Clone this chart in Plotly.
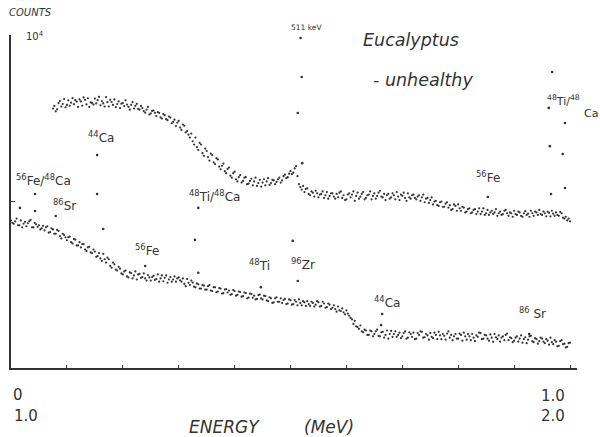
import numpy as np
import plotly.graph_objects as go

# ---------------- data ----------------
# Upper spectrum (0 - 1 MeV): counts per 2.5 keV channel, starting at 0.075 MeV
upper_start = 0.075
upper_step = 0.0025
upper_counts = [
    3620, 3750, 3480, 3580, 3900, 4010, 3720, 3850, 4120, 3680, 3800, 4050, 3760, 3920, 4180, 3840, 4060, 3980, 3700, 4100,
    3990, 3760, 4220, 4080, 3830, 4170, 3700, 3940, 3910, 3820, 4150, 3880, 4060, 4250, 3780, 4000, 3880, 3720, 4240, 3950,
    3720, 4080, 3960, 3800, 4100, 3690, 3850, 3990, 3640, 3870, 3900, 3740, 4050, 3820, 3700, 3560, 3810, 3950, 3620, 3750,
    3860, 3600, 3560, 3750, 3640, 3490, 3420, 3560, 3700, 3330, 3380, 3500, 3520, 3410, 3260, 3440, 3410, 3200, 3150, 3350,
    3300, 3120, 3080, 3240, 3190, 2950, 3010, 3100, 2840, 2980, 3050, 2780, 2690, 2900, 2850, 2600, 2650, 2520, 2420, 2560,
    2300, 2200, 2420, 2120, 2040, 2250, 2200, 1950, 1880, 2080, 2010, 1850, 1760, 1940, 1900, 1720, 1680, 1820, 1790, 1620,
    1560, 1640, 1690, 1520, 1480, 1570, 1600, 1430, 1390, 1480, 1510, 1360, 1320, 1400, 1440, 1300, 1330, 1390, 1400, 1270,
    1280, 1330, 1370, 1250, 1320, 1390, 1240, 1290, 1350, 1230, 1300, 1360, 1250, 1320, 1380, 1260, 1290, 1350, 1340, 1270,
    1310, 1360, 1390, 1300, 1340, 1420, 1450, 1380, 1400, 1470, 1520, 1460, 1490, 1580, 1630, 1420, 1270, 1220, 1180, 1240,
    1140, 1190, 1200, 1110, 1090, 1150, 1130, 1070, 1160, 1120, 1060, 1100, 1110, 1150, 1050, 1090, 1140, 1040, 1080, 1120,
    1120, 1070, 1040, 1110, 1060, 1130, 1150, 1050, 1090, 1020, 1030, 1100, 1120, 1060, 1100, 1150, 1010, 1080, 1130, 1040,
    1070, 1110, 1140, 1030, 1050, 1090, 1100, 1150, 1030, 1080, 1120, 1040, 1080, 1130, 1160, 1070, 1060, 1110, 1020, 1090,
    1110, 1040, 1060, 1120, 1090, 1030, 1140, 1070, 1020, 1100, 1080, 1130, 1050, 1010, 1120, 1060, 1040, 1090, 1100, 1050,
    1030, 1070, 1090, 1010, 1060, 1100, 990, 1040, 1050, 980, 1020, 1060, 960, 1000, 1010, 950, 940, 990, 1000, 930,
    930, 970, 990, 920, 950, 890, 900, 960, 940, 880, 960, 910, 880, 930, 920, 860, 870, 900, 910, 850,
    860, 890, 900, 840, 870, 910, 840, 870, 910, 830, 850, 890, 830, 860, 880, 840, 860, 900, 820, 850,
    870, 830, 840, 880, 890, 850, 820, 860, 850, 810, 880, 840, 830, 870, 860, 820, 810, 850, 875, 830,
    845, 810, 880, 850, 820, 870, 860, 830, 890, 840, 830, 870, 850, 815, 870, 855, 815, 880, 845, 820,
    860, 830, 820, 865, 850, 800, 790, 810, 770, 790, 760,
]

# Lower spectrum (1 - 2 MeV): counts per 2.5 keV channel, from 1.0 MeV (plotted 0..1)
lower_start = 0.0
lower_step = 0.0025
lower_counts = [
    770, 745, 735, 760, 790, 720, 720, 770, 700, 735, 755, 710, 740, 760, 775, 700, 700, 745, 730, 705,
    720, 680, 690, 715, 670, 700, 710, 650, 655, 690, 680, 640, 640, 675, 665, 620, 600, 640, 630, 610,
    585, 610, 615, 570, 560, 595, 590, 545, 545, 570, 530, 555, 555, 515, 505, 530, 535, 495, 490, 515,
    500, 465, 470, 490, 455, 440, 485, 450, 430, 460, 450, 410, 400, 430, 420, 390, 385, 405, 395, 370,
    365, 380, 385, 355, 350, 375, 372, 345, 360, 380, 340, 365, 368, 348, 352, 370, 345, 335, 362, 350,
    335, 352, 358, 338, 342, 365, 330, 345, 360, 332, 348, 360, 325, 340, 352, 330, 340, 355, 330, 345,
    350, 336, 330, 345, 320, 310, 342, 325, 315, 335, 326, 308, 305, 322, 318, 300, 300, 315, 312, 296,
    296, 310, 315, 292, 290, 306, 305, 285, 288, 302, 300, 280, 282, 296, 298, 284, 292, 275, 278, 294,
    290, 272, 275, 288, 286, 268, 270, 284, 282, 262, 265, 280, 278, 264, 272, 258, 260, 274, 276, 262,
    258, 272, 270, 255, 252, 266, 262, 246, 248, 262, 266, 250, 250, 262, 246, 256, 260, 242, 244, 258,
    255, 240, 242, 256, 250, 238, 258, 246, 238, 252, 248, 236, 252, 242, 236, 250, 246, 234, 240, 252,
    248, 234, 236, 250, 244, 230, 232, 244, 240, 226, 230, 238, 226, 218, 234, 222, 220, 228, 216, 210,
    222, 212, 206, 200, 196, 184, 192, 178, 176, 172, 180, 166, 164, 170, 168, 158, 158, 168, 166, 155,
    160, 166, 170, 156, 155, 164, 165, 152, 158, 168, 150, 160, 167, 154, 160, 166, 154, 158, 163, 151,
    155, 162, 166, 150, 152, 164, 160, 154, 163, 149, 150, 162, 158, 166, 165, 152, 153, 160, 157, 148,
    162, 154, 151, 163, 158, 149, 165, 157, 149, 160, 156, 148, 161, 166, 152, 158, 147, 155, 160, 150,
    150, 161, 158, 146, 163, 155, 148, 160, 155, 147, 160, 152, 145, 157, 154, 163, 162, 149, 150, 158,
    157, 150, 146, 159, 152, 144, 160, 153, 149, 157, 144, 152, 155, 147, 158, 161, 147, 153, 151, 143,
    146, 152, 155, 144, 150, 157, 142, 149, 153, 141, 148, 155, 156, 145, 143, 151, 149, 140, 145, 152,
    150, 144, 141, 149, 146, 138, 152, 143, 139, 147, 144, 135, 136, 145, 147, 139, 140, 133, 134, 141, 142,
]

# Isolated peak channels
upper_peak_energy = [0.513, 0.518, 0.520, 0.521, 0.853, 0.962, 0.964, 0.966,
                     0.968, 0.987, 0.991, 0.991]
upper_peak_counts = [3400, 9600, 5600, 1700, 1065, 3650, 2150, 1110,
                     6000, 1930, 2960, 1205]

lower_peak_energy = [0.016, 0.043, 0.043, 0.080, 0.154, 0.154, 0.165, 0.240,
                     0.329, 0.335, 0.335, 0.447, 0.504, 0.513, 0.662, 0.664, 0.927]
lower_peak_counts = [915, 877, 1110, 818, 1900, 1110, 684, 410,
                     588, 915, 373, 306, 580, 333, 181, 211, 160]

x_tick_values = [0.1, 0.2, 0.3, 0.4, 0.5, 0.6, 0.7, 0.8, 0.9, 1.0]
y_tick_values = [1000, 10000]

# ---------------- figure ----------------
upper_energy = upper_start + upper_step * np.arange(len(upper_counts))
lower_energy = lower_start + lower_step * np.arange(len(lower_counts))

INK = "#333333"
FONT = "DejaVu Sans"
W, H = 600, 437
L, R, T, B = 11, 23, 35, 69
PW, PH = W - L - R, H - T - B

fig = go.Figure()
for xs, ys, sz in [(upper_energy, upper_counts, 2.2),
                   (lower_energy, lower_counts, 2.2),
                   (upper_peak_energy, upper_peak_counts, 2.6),
                   (lower_peak_energy, lower_peak_counts, 2.6)]:
    fig.add_trace(go.Scatter(x=xs, y=ys, mode="markers",
                             marker=dict(color=INK, size=sz, line=dict(width=0)),
                             showlegend=False, hoverinfo="skip"))


def px(x):
    return (x - L) / PW


def py(y):
    return (H - B - y) / PH


labels = [
    (8, 13, "<i>COUNTS</i>", 10),
    (25, 36, "10<sup>4</sup>", 10),
    (290, 28, "511 keV", 7.5),
    (362, 40, "<i>Eucalyptus</i>", 17.5),
    (372, 80, "<i>- unhealthy</i>", 17.5),
    (87, 137, "<sup>44</sup>Ca", 12),
    (15, 180, "<sup>56</sup>Fe/<sup>48</sup>Ca", 12),
    (52, 205, "<sup>86</sup>Sr", 12),
    (188, 196, "<sup>48</sup>Ti/<sup>48</sup>Ca", 12),
    (134, 250, "<sup>56</sup>Fe", 12),
    (248, 265, "<sup>48</sup>Ti", 12),
    (290, 264, "<sup>96</sup>Zr", 12),
    (373, 302, "<sup>44</sup>Ca", 12),
    (518, 313, "<sup>86</sup> Sr", 12),
    (475, 177, "<sup>56</sup>Fe", 12),
    (546, 100, "<sup>48</sup>Ti/<sup>48</sup>", 11),
    (583, 113, "Ca", 11),
    (12, 395, "0", 15),
    (13, 416, "1.0", 15),
    (540, 396, "1.0", 15),
    (540, 416, "2.0", 15),
    (188, 427, "<i>ENERGY</i>", 17),
    (303, 427, "<i>(MeV)</i>", 17),
]
for lx, ly, txt, size in labels:
    fig.add_annotation(x=px(lx), y=py(ly), xref="paper", yref="paper",
                       text=txt, showarrow=False, xanchor="left",
                       yanchor="middle", borderpad=0,
                       font=dict(family=FONT, size=size, color=INK))

fig.update_layout(
    width=W, height=H,
    margin=dict(l=L, r=R, t=T, b=B, pad=0),
    paper_bgcolor="white", plot_bgcolor="white",
    xaxis=dict(range=[0, PW / 559], showgrid=False, zeroline=False,
               showline=True, linecolor=INK, linewidth=1.5,
               tickvals=x_tick_values, ticks="inside", ticklen=3,
               tickcolor=INK, tickwidth=1.2, showticklabels=False),
    yaxis=dict(type="log", range=[2, 4], showgrid=False, zeroline=False,
               showline=True, linecolor=INK, linewidth=1.5,
               tickvals=y_tick_values, ticks="inside", ticklen=4,
               tickcolor=INK, tickwidth=1.2, showticklabels=False),
)

fig.write_html("out.html",
               config={"displayModeBar": False},
               post_script="document.body.style.margin='0';"
                           "document.body.style.overflow='hidden';")
